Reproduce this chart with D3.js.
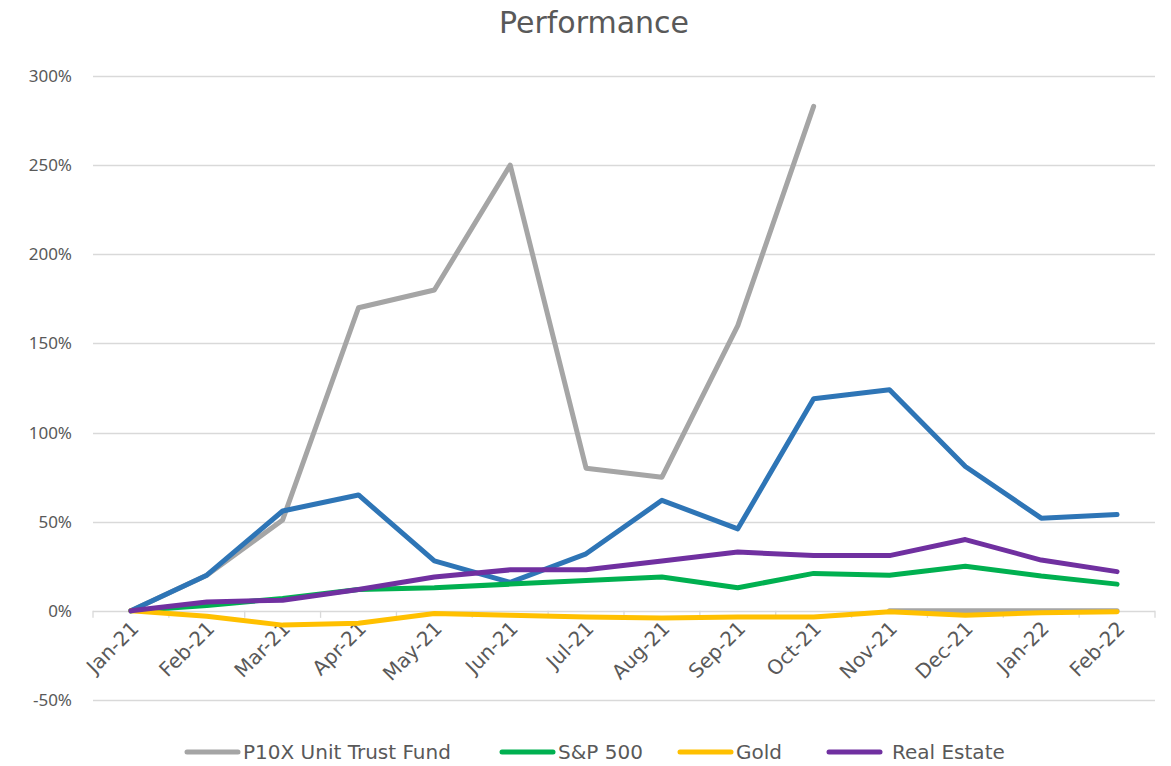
<!DOCTYPE html>
<html><head><meta charset="utf-8">
<script src="https://cdn.jsdelivr.net/npm/d3@7"></script>
<style>body{margin:0;background:#fff}svg{display:block}text{font-family:"DejaVu Sans",sans-serif;fill:#595959}</style>
</head><body><svg id="c" width="1171" height="766"></svg>
<script>
const categories = ["Jan-21","Feb-21","Mar-21","Apr-21","May-21","Jun-21","Jul-21","Aug-21","Sep-21","Oct-21","Nov-21","Dec-21","Jan-22","Feb-22"];
const yTicks = [-50,0,50,100,150,200,250,300];
const p10x = [0,20,51,170,180,250,80,75,160,283,null,null,null,null];
const p10xLater = [null,null,null,null,null,null,null,null,null,null,0,0,0,0];
const blueSeries = [0,20,56,65,28,16,32,62,46,119,124,81,52,54];
const sp500 = [0,3,7,12,13,15,17,19,13,21,20,25,19.5,15];
const gold = [0,-3,-8,-7,-1.5,-2.5,-3.5,-4,-3.5,-3.5,-0.5,-2.5,-1,-0.5];
const realEstate = [0,5,6,12,19,23,23,28,33,31,31,40,28.5,22];
const seriesNames = ["P10X Unit Trust Fund","S&P 500","Gold","Real Estate"];
const colors = {p10x:"#A5A5A5", blue:"#2E75B6", sp:"#00B050", gold:"#FFC000", re:"#7030A0"};

const svg = d3.select("#c");
const L=93, R=1155, T=76, B=700;
const x = d3.scaleBand().domain(categories).range([L,R]);
const y = d3.scaleLinear().domain([-50,300]).range([B,T]);

svg.append("text").attr("x",594).attr("y",33).attr("text-anchor","middle").style("font-size","30px").text("Performance");

const g = svg.append("g");
g.selectAll("line.grid").data(yTicks).join("line")
 .attr("x1",L).attr("x2",R).attr("y1",d=>Math.round(y(d))+0.5).attr("y2",d=>Math.round(y(d))+0.5)
 .attr("stroke","#D9D9D9").attr("stroke-width",1.3);
g.selectAll("text.yl").data(yTicks).join("text")
 .attr("x",72).attr("y",d=>y(d)).attr("dy","0.35em").attr("text-anchor","end")
 .style("font-size","17px").style("font-family","'Noto Sans',sans-serif")
 .text(d=>d+"%");

const bounds = d3.range(categories.length+1).map(i=>L+i*x.step());
g.selectAll("line.tk").data(bounds).join("line")
 .attr("x1",d=>d).attr("x2",d=>d).attr("y1",y(0)).attr("y2",y(0)+7)
 .attr("stroke","#D9D9D9").attr("stroke-width",1.3);
g.selectAll("text.xl").data(categories).join("text")
 .attr("transform",d=>`translate(${x(d)+x.bandwidth()/2+4},${y(0)+14}) rotate(-45)`)
 .attr("text-anchor","end").attr("dy","0.35em").style("font-size","20px").text(d=>d);

const line = d3.line().defined(d=>d.v!==null).x(d=>x(d.c)+x.bandwidth()/2).y(d=>y(d.v));
const draw = (arr,col)=>g.append("path").datum(arr.map((v,i)=>({c:categories[i],v})))
 .attr("d",line).attr("fill","none").attr("stroke",col).attr("stroke-width",5)
 .attr("stroke-linecap","round").attr("stroke-linejoin","round");
draw(p10xLater,colors.p10x);
draw(p10x,colors.p10x);
draw(blueSeries,colors.blue);
draw(sp500,colors.sp);
draw(gold,colors.gold);
draw(realEstate,colors.re);

const legendCols=[colors.p10x,colors.sp,colors.gold,colors.re];
const legX=[184,499,677,826];
const leg = svg.append("g");
seriesNames.forEach((n,i)=>{
  leg.append("line").attr("x1",legX[i]+3).attr("x2",legX[i]+54).attr("y1",752).attr("y2",752)
   .attr("stroke",legendCols[i]).attr("stroke-width",5).attr("stroke-linecap","round");
  leg.append("text").attr("x",legX[i]+(i==3?66:59)).attr("y",752).attr("dy","0.35em").style("font-size","20px").text(n);
});
</script></body></html>
